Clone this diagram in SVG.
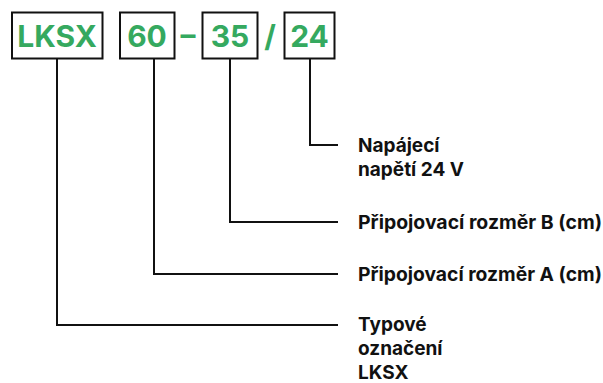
<svg xmlns="http://www.w3.org/2000/svg" width="603" height="383" viewBox="0 0 603 383">
<style>
.box{fill:#fff;stroke:#111;stroke-width:2}
.code{font-family:Inter,"Liberation Sans",sans-serif;font-weight:700;font-size:30px;fill:#35a95f;text-anchor:middle}
.lbl{font-family:Inter,"Liberation Sans",sans-serif;font-weight:700;font-size:19px;fill:#111}
.ln{fill:none;stroke:#111;stroke-width:2}
</style>
<rect width="603" height="383" fill="#fff"/>
<g id="connectors">
<polyline class="ln" points="310,59 310,145 338,145"/>
<polyline class="ln" points="230,59 230,222 338,222"/>
<polyline class="ln" points="154,59 154,274 338,274"/>
<polyline class="ln" points="57,59 57,325 338,325"/>
</g>
<g id="node-lksx">
<rect class="box" x="12" y="12.5" width="90.5" height="46"/>
<text class="code" x="57.2" y="47">LKSX</text>
</g>
<g id="node-60">
<rect class="box" x="120" y="12.5" width="54.5" height="46"/>
<text class="code" x="147" y="47">60</text>
</g>
<text class="code" x="188" y="45">–</text>
<g id="node-35">
<rect class="box" x="202.5" y="12.5" width="55" height="46"/>
<text class="code" x="230" y="47">35</text>
</g>
<text class="code" x="270" y="47">/</text>
<g id="node-24">
<rect class="box" x="284.5" y="12.5" width="50" height="46"/>
<text class="code" x="309.5" y="47">24</text>
</g>
<g id="label-napajeci">
<text class="lbl" x="358" y="152">Napájecí</text>
<text class="lbl" x="358" y="176">napětí 24 V</text>
</g>
<g id="label-b">
<text class="lbl" x="358" y="229" textLength="244" lengthAdjust="spacingAndGlyphs">Připojovací rozměr B (cm)</text>
</g>
<g id="label-a">
<text class="lbl" x="358" y="281" textLength="244" lengthAdjust="spacingAndGlyphs">Připojovací rozměr A (cm)</text>
</g>
<g id="label-typ">
<text class="lbl" x="358" y="331">Typové</text>
<text class="lbl" x="358" y="355">označení</text>
<text class="lbl" x="358" y="379">LKSX</text>
</g>
</svg>
